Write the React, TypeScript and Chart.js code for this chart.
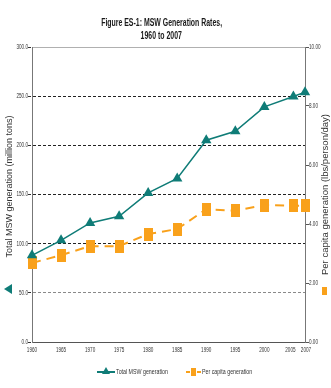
import React, { useEffect, useRef } from "react";
import { Chart, registerables } from "chart.js";

Chart.register(...registerables);

const years = [1960, 1965, 1970, 1975, 1980, 1985, 1990, 1995, 2000, 2005, 2007];
const totalMSW = [88.1, 103.4, 121.1, 127.8, 151.6, 166.3, 205.2, 214.3, 239.1, 249.6, 254.1];
const perCapita = [2.68, 2.94, 3.25, 3.25, 3.66, 3.83, 4.5, 4.45, 4.64, 4.62, 4.62];
const leftTicks = [0, 50, 100, 150, 200, 250, 300];
const rightTicks = [0, 2, 4, 6, 8, 10];
const xTicks = [1960, 1965, 1970, 1975, 1980, 1985, 1990, 1995, 2000, 2005, 2007];

const TEAL = "#0f7c77";
const ORANGE = "#f9a11b";
const SANS = "'Liberation Sans', Arial, sans-serif";
const SQUEEZE = 0.66;

function makeRect(w: number, h: number, color: string) {
  const c = document.createElement("canvas");
  c.width = w;
  c.height = h;
  const g = c.getContext("2d")!;
  g.fillStyle = color;
  g.fillRect(0, 0, w, h);
  return c;
}

const axisTitles = {
  id: "axisTitles",
  afterDraw(chart: any) {
    const { ctx, chartArea } = chart;
    const cy = (chartArea.top + chartArea.bottom) / 2;
    ctx.save();
    ctx.fillStyle = "#333";
    ctx.textAlign = "center";
    ctx.textBaseline = "middle";
    ctx.save();
    ctx.font = `9px ${SANS}`;
    ctx.translate(10, cy - 8);
    ctx.rotate(-Math.PI / 2);
    ctx.fillText("Total MSW generation (million tons)", 0, 0);
    ctx.restore();
    ctx.save();
    ctx.font = `9.5px ${SANS}`;
    ctx.translate(325, cy);
    ctx.rotate(-Math.PI / 2);
    ctx.fillText("Per capita generation (lbs/person/day)", 0, 0);
    ctx.restore();
    ctx.restore();
  },
};

const tickLabels = {
  id: "tickLabels",
  afterDraw(chart: any) {
    const ctx = chart.ctx;
    const yS = chart.scales.y;
    const y1 = chart.scales.y1;
    const xS = chart.scales.x;
    ctx.save();
    ctx.font = `7px ${SANS}`;
    ctx.fillStyle = "#333";
    ctx.textBaseline = "middle";
    const draw = (text: string, x: number, y: number, align: CanvasTextAlign) => {
      ctx.save();
      ctx.translate(x, y);
      ctx.scale(SQUEEZE, 1);
      ctx.textAlign = align;
      ctx.fillText(text, 0, 0);
      ctx.restore();
    };
    leftTicks.forEach((v) => draw(v.toFixed(1), yS.right - 4, yS.getPixelForValue(v), "right"));
    rightTicks.forEach((v) => draw(v.toFixed(2), y1.left + 4, y1.getPixelForValue(v), "left"));
    const last = xTicks.length - 1;
    xTicks.forEach((v, i) => {
      const nudge = i === last ? 1 : i === last - 1 ? -3 : 0;
      draw(String(v), xS.getPixelForValue(v) + nudge, xS.top + 8, "center");
    });
    ctx.restore();
  },
};

function gridColor(v: number) {
  if (v === 300) return "#b0b0b0";
  if (v === 50) return "#8a8a8a";
  if (v === 0) return "rgba(0,0,0,0)";
  return "#222";
}

export default function App() {
  const ref = useRef<HTMLCanvasElement>(null);
  useEffect(() => {
    const rectImg = makeRect(9, 13, ORANGE);
    const chart = new Chart(ref.current!, {
      type: "line",
      data: {
        datasets: [
          {
            label: "Total MSW generation",
            data: years.map((y, i) => ({ x: y, y: totalMSW[i] })),
            borderColor: TEAL,
            backgroundColor: TEAL,
            borderWidth: 1.5,
            pointStyle: "triangle",
            pointRadius: 6,
            pointBorderWidth: 0,
            yAxisID: "y",
            clip: false as any,
            order: 1,
          },
          {
            label: "Per capita generation",
            data: years.map((y, i) => ({ x: y, y: perCapita[i] })),
            borderColor: ORANGE,
            backgroundColor: ORANGE,
            borderWidth: 2,
            borderDash: [9, 6],
            pointStyle: rectImg as any,
            pointRadius: 6,
            yAxisID: "y1",
            clip: false as any,
            order: 2,
          },
        ],
      },
      options: {
        animation: false,
        responsive: true,
        maintainAspectRatio: false,
        layout: { padding: { top: 47, left: 0, right: 0, bottom: 0 } },
        plugins: { legend: { display: false }, title: { display: false }, tooltip: { enabled: false } },
        scales: {
          x: {
            type: "linear",
            min: 1960,
            max: 2007,
            afterBuildTicks: (s: any) => {
              s.ticks = xTicks.map((v) => ({ value: v }));
            },
            afterFit: (s: any) => {
              s.height = 46;
            },
            ticks: { display: false, autoSkip: false, maxRotation: 0 },
            grid: { display: false, drawTicks: false },
            border: { display: true, color: "#555", width: 1 },
          },
          y: {
            type: "linear",
            position: "left",
            min: 0,
            max: 300,
            afterBuildTicks: (s: any) => {
              s.ticks = leftTicks.map((v) => ({ value: v }));
            },
            afterFit: (s: any) => {
              s.width = 32;
            },
            ticks: { display: false },
            grid: {
              color: (c: any) => gridColor(c.tick?.value),
              lineWidth: 1,
              tickLength: 4,
              tickColor: "#333",
              tickBorderDash: [3, 1],
            } as any,
            border: {
              display: true,
              color: "#777",
              width: 1,
              dash: (c: any) => (c.tick && c.tick.value === 300 ? [] : [3, 2]),
            } as any,
          },
          y1: {
            type: "linear",
            position: "right",
            min: 0,
            max: 10,
            afterBuildTicks: (s: any) => {
              s.ticks = rightTicks.map((v) => ({ value: v }));
            },
            afterFit: (s: any) => {
              s.width = 26;
            },
            ticks: { display: false },
            grid: { drawOnChartArea: false, tickLength: 4, tickColor: "#555" },
            border: { display: true, color: "#777", width: 1 },
          },
        },
      },
      plugins: [axisTitles, tickLabels],
    });
    return () => chart.destroy();
  }, []);

  const legendText: React.CSSProperties = {
    fontFamily: SANS,
    fontSize: 8,
    color: "#333",
    lineHeight: "10px",
    whiteSpace: "nowrap",
    display: "inline-block",
    transform: `scaleX(${SQUEEZE})`,
    transformOrigin: "left center",
  };

  return (
    <div style={{ position: "absolute", left: 0, top: 0, width: 331, height: 388 }}>
      <canvas ref={ref} />
      <div
        style={{
          position: "absolute",
          left: 0,
          top: 16,
          width: 323,
          textAlign: "center",
          fontFamily: SANS,
          fontWeight: "bold",
          fontSize: 10.5,
          lineHeight: "13px",
          color: "#1a1a1a",
        }}
      >
        <span style={{ display: "inline-block", transform: `scaleX(${SQUEEZE})`, transformOrigin: "center" }}>
          Figure ES-1: MSW Generation Rates,
        </span>
        <br />
        <span style={{ display: "inline-block", transform: `scaleX(${SQUEEZE})`, transformOrigin: "center" }}>
          1960 to 2007
        </span>
      </div>
      {/* left-edge marker */}
      <div
        style={{
          position: "absolute",
          left: 4,
          top: 284,
          width: 0,
          height: 0,
          borderTop: "5px solid transparent",
          borderBottom: "5px solid transparent",
          borderRight: `8px solid ${TEAL}`,
        }}
      />
      {/* right-edge marker */}
      <div style={{ position: "absolute", left: 322, top: 287, width: 5, height: 8, background: ORANGE }} />
      {/* legend */}
      <div style={{ position: "absolute", left: 97, top: 367, display: "flex", alignItems: "center" }}>
        <div style={{ position: "relative", width: 18, height: 10, flex: "none" }}>
          <div style={{ position: "absolute", left: 0, top: 4, width: 18, height: 2, background: TEAL }} />
          <div
            style={{
              position: "absolute",
              left: 5,
              top: 0,
              width: 0,
              height: 0,
              borderLeft: "4px solid transparent",
              borderRight: "4px solid transparent",
              borderBottom: `7px solid ${TEAL}`,
            }}
          />
        </div>
        <span style={{ ...legendText, marginLeft: 1 }}>Total MSW generation</span>
      </div>
      <div style={{ position: "absolute", left: 186, top: 367, display: "flex", alignItems: "center" }}>
        <div style={{ position: "relative", width: 15, height: 10, flex: "none" }}>
          <div style={{ position: "absolute", left: 0, top: 4, width: 4, height: 2, background: ORANGE }} />
          <div style={{ position: "absolute", left: 11, top: 4, width: 4, height: 2, background: ORANGE }} />
          <div style={{ position: "absolute", left: 5, top: 1, width: 5, height: 8, background: ORANGE }} />
        </div>
        <span style={{ ...legendText, marginLeft: 1 }}>Per capita generation</span>
      </div>
    </div>
  );
}
